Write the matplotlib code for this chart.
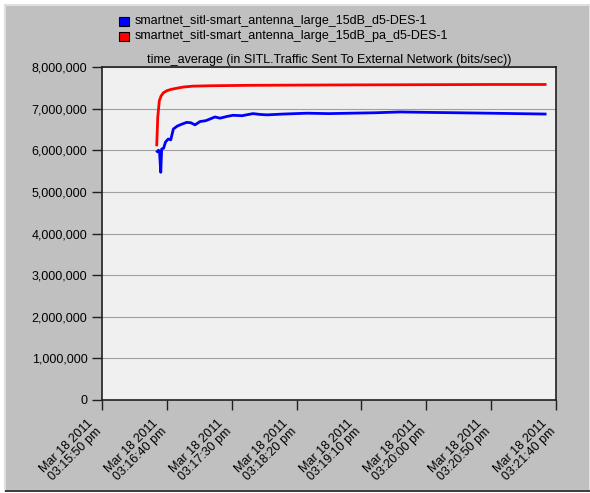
"""time_average of SITL traffic sent to external network, two DES runs."""

import matplotlib

matplotlib.use("Agg")
import matplotlib.pyplot as plt  # noqa: E402
from matplotlib.patches import Rectangle  # noqa: E402
from matplotlib.transforms import ScaledTranslation  # noqa: E402

plt.rcParams["font.family"] = ["Liberation Sans", "DejaVu Sans"]

# seconds after 03:15:50 pm, values in bits/sec
BLUE_T = [42.6, 43.5, 44.3, 45.3, 46.0, 47.5, 49.0, 51.1, 53.0, 55.0, 58.0,
          61.0, 65.3, 68.5, 71.7, 75.6, 80.0, 84.0, 87.1, 91.0, 96.0, 101.0,
          108.0, 116.4, 122.0, 127.2, 140.0, 158.0, 175.0, 191.2, 210.0,
          229.8, 250.0, 275.0, 299.0, 320.0, 341.6]
BLUE_V = [5.97e6, 6.00e6, 5.98e6, 5.47e6, 6.03e6, 6.05e6, 6.20e6, 6.27e6,
          6.25e6, 6.51e6, 6.58e6, 6.62e6, 6.67e6, 6.66e6, 6.61e6, 6.69e6,
          6.71e6, 6.76e6, 6.80e6, 6.77e6, 6.81e6, 6.84e6, 6.83e6, 6.88e6,
          6.86e6, 6.85e6, 6.87e6, 6.89e6, 6.88e6, 6.89e6, 6.90e6, 6.92e6,
          6.91e6, 6.90e6, 6.89e6, 6.88e6, 6.87e6]
RED_T = [42.2, 43.0, 44.2, 45.5, 47.3, 50.0, 53.0, 57.6, 63.0, 70.2, 85.0,
         114.0, 150.0, 191.0, 250.0, 300.0, 341.6]
RED_V = [6.13e6, 6.80e6, 7.19e6, 7.30e6, 7.38e6, 7.43e6, 7.46e6, 7.49e6,
         7.52e6, 7.54e6, 7.55e6, 7.56e6, 7.565e6, 7.57e6, 7.575e6, 7.58e6,
         7.58e6]

SERIES_NAMES = ["smartnet_sitl-smart_antenna_large_15dB_d5-DES-1",
                "smartnet_sitl-smart_antenna_large_15dB_pa_d5-DES-1"]
TICK_SECONDS = [0, 50, 100, 150, 200, 250, 300, 350]
TICK_LABELS = ["Mar 18 2011\n03:15:50 pm", "Mar 18 2011\n03:16:40 pm",
               "Mar 18 2011\n03:17:30 pm", "Mar 18 2011\n03:18:20 pm",
               "Mar 18 2011\n03:19:10 pm", "Mar 18 2011\n03:20:00 pm",
               "Mar 18 2011\n03:20:50 pm", "Mar 18 2011\n03:21:40 pm"]
TITLE = "time_average (in SITL.Traffic Sent To External Network (bits/sec))"

W, H = 590, 493
fig = plt.figure(figsize=(W / 100, H / 100), dpi=100)
fig.patch.set_facecolor("white")
# grey panel behind everything
fig.patches.append(Rectangle((5 / W, 2 / H), 585 / W, 486 / H,
                             transform=fig.transFigure, facecolor="#c0c0c0",
                             edgecolor="#e0e0e0", linewidth=1.5, zorder=-10))
fig.patches.append(Rectangle((5 / W, 1 / H), 585 / W, 2 / H,
                             transform=fig.transFigure, facecolor="#404040",
                             edgecolor="none", zorder=-9))

ax = fig.add_axes([102 / W, 1 - 400 / H, 454 / W, 333 / H])
ax.set_facecolor("#f0f0f0")

ax.plot(BLUE_T, BLUE_V, color="#0000ff", lw=2.0, zorder=3)
ax.plot(RED_T, RED_V, color="#ff0000", lw=2.0, zorder=3)

ax.set_xlim(0, 350)
ax.set_ylim(0, 8e6)
ax.set_yticks([i * 1e6 for i in range(9)])
ax.set_yticklabels([f"{i * 1000000:,}" for i in range(9)], fontsize=9)
ax.set_xticks(TICK_SECONDS)
ax.set_xticklabels([])
ax.tick_params(direction="out", length=7, width=1, color="#202020")
ax.grid(axis="y", color="#a0a0a0", lw=0.8)
for s in ax.spines.values():
    s.set_color("#202020")
    s.set_linewidth(1.2)

# rotated date labels: the block ends a little left of its tick
lab_tr = ax.get_xaxis_transform() + ScaledTranslation(-0.15, -0.17,
                                                       fig.dpi_scale_trans)
for t, lab in zip(TICK_SECONDS, TICK_LABELS):
    ax.text(t, 0, lab, transform=lab_tr, rotation=45, ha="right", va="top",
            rotation_mode="anchor", fontsize=9, linespacing=1.0,
            clip_on=False)

ax.set_title(TITLE, fontsize=9, pad=3)

# legend, drawn as in the original tool: small squares + text
for i, (name, col) in enumerate(zip(SERIES_NAMES, ["#0000ff", "#ff0000"])):
    y = 1 - (21 + 15 * i) / H
    fig.patches.append(Rectangle((119 / W, y - 4.5 / H), 10 / W, 9 / H,
                                 transform=fig.transFigure, facecolor=col,
                                 edgecolor="black", linewidth=0.8, zorder=2))
    fig.text(135 / W, y, name, fontsize=9, va="center", ha="left")

fig.savefig("out.png", dpi=100)
